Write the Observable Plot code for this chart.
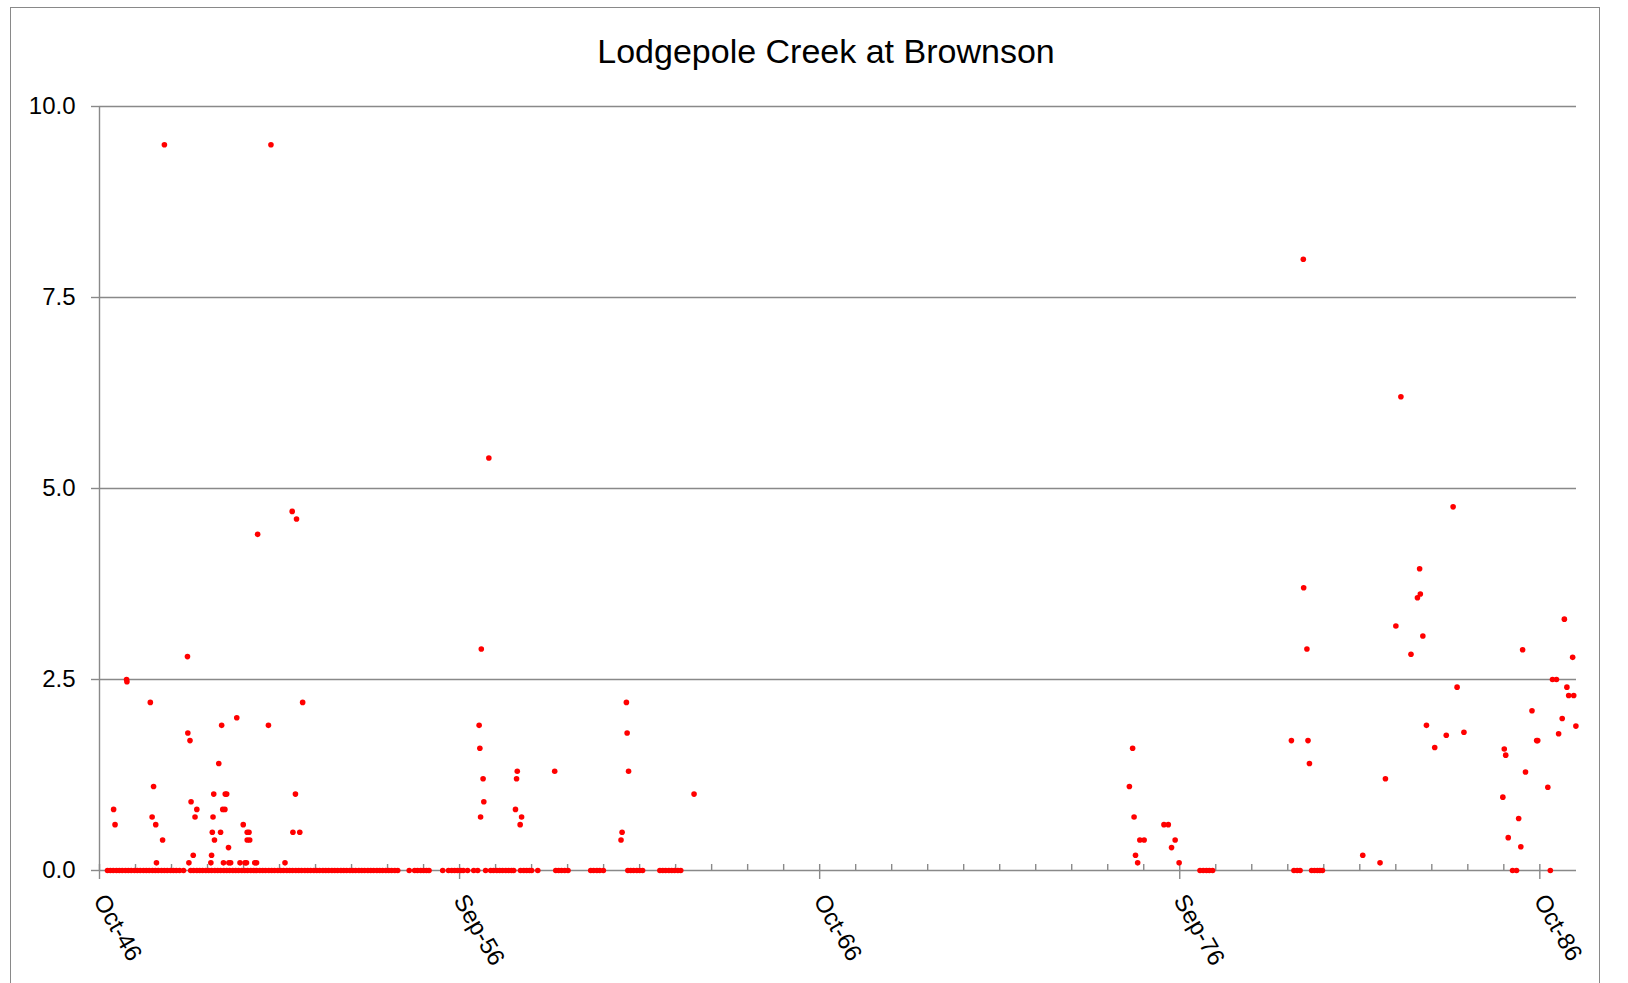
<!DOCTYPE html>
<html><head><meta charset="utf-8">
<script src="https://cdn.jsdelivr.net/npm/d3@7"></script>
<script src="https://cdn.jsdelivr.net/npm/@observablehq/plot@0.6"></script>
<style>
html,body{margin:0;padding:0;background:#fff;}
#wrap{position:relative;width:1628px;height:983px;overflow:hidden;font-family:"Liberation Sans",Arial,sans-serif;}
#border{position:absolute;left:10px;top:7px;width:1590px;height:1100px;border:1px solid #898989;box-sizing:border-box;}
#title{position:absolute;left:826px;top:34px;transform:translateX(-50%);font-size:34px;line-height:34px;white-space:nowrap;color:#000;}
#chart{position:absolute;left:0;top:80px;}
</style></head><body>
<div id="wrap"><div id="border"></div><div id="title">Lodgepole Creek at Brownson</div><div id="chart"></div></div>
<script>
// Tick labels and tick dates (Excel date axis: start Oct 1 1946, major unit ~10 yr)
const xTickLabels = ["Oct-46", "Sep-56", "Oct-66", "Sep-76", "Oct-86"];
const xTickDates = ["1946-10-01T00:00Z", "1956-09-30T12:00Z", "1966-10-01T00:00Z", "1976-09-30T12:00Z", "1986-10-01T00:00Z"];
const yTicks = [0, 2.5, 5, 7.5, 10];

// Observations read as decimal years with value 0.0
const zeroYears = [
  1946.97, 1947.05, 1947.13, 1947.22, 1947.30, 1947.38, 1947.47, 1947.55, 1947.63, 1947.72, 1947.80, 1947.88,
  1947.97, 1948.05, 1948.13, 1948.22, 1948.30, 1948.38, 1948.47, 1948.55, 1948.63, 1948.72, 1948.80, 1948.88,
  1948.97, 1949.08,
  1949.28, 1949.36, 1949.45, 1949.53, 1949.61, 1949.70, 1949.78, 1949.86, 1949.95,
  1950.03, 1950.11, 1950.20, 1950.28, 1950.36, 1950.45, 1950.53, 1950.61, 1950.70, 1950.78, 1950.86, 1950.95,
  1951.03, 1951.11, 1951.20, 1951.28, 1951.36, 1951.45, 1951.53, 1951.61, 1951.70, 1951.78, 1951.86, 1951.95,
  1952.03, 1952.11, 1952.20, 1952.28, 1952.36, 1952.45, 1952.53, 1952.61, 1952.70, 1952.78, 1952.86, 1952.95,
  1953.03, 1953.11, 1953.20, 1953.28, 1953.36, 1953.45, 1953.53, 1953.61, 1953.70, 1953.78, 1953.86, 1953.95,
  1954.03, 1954.11, 1954.20, 1954.28, 1954.36, 1954.45, 1954.53, 1954.61, 1954.70, 1954.78, 1954.86, 1954.95,
  1955.03,
  1955.35, 1955.50, 1955.58, 1955.67, 1955.75, 1955.83, 1955.90,
  1956.28, 1956.44, 1956.53, 1956.61, 1956.69, 1956.78, 1956.85, 1956.97,
  1957.14, 1957.25, 1957.47,
  1957.61, 1957.69, 1957.78, 1957.86, 1957.94, 1958.03, 1958.11, 1958.19, 1958.25,
  1958.44, 1958.53, 1958.61, 1958.69, 1958.75, 1958.92,
  1959.42, 1959.50, 1959.58, 1959.67, 1959.76,
  1960.39, 1960.47, 1960.56, 1960.64, 1960.74,
  1961.42, 1961.50, 1961.58, 1961.67, 1961.75, 1961.83,
  1962.31, 1962.39, 1962.47, 1962.56, 1962.64, 1962.72, 1962.81, 1962.89,
  1977.31, 1977.40, 1977.49, 1977.57, 1977.66,
  1979.92, 1980.01, 1980.09,
  1980.41, 1980.49, 1980.57, 1980.64, 1980.71,
  1985.99, 1986.10, 1987.04
];

// Non-zero observations: decimal year and value
const years1940s50s = [1947.14, 1947.18, 1947.50, 1947.51, 1948.16, 1948.21, 1948.25, 1948.31, 1948.33, 1948.50, 1948.55,
  1949.19, 1949.20, 1949.23, 1949.26, 1949.29, 1949.35, 1949.40, 1949.45,
  1949.84, 1949.86, 1949.88, 1949.90, 1949.92, 1949.94,
  1950.06, 1950.11, 1950.14, 1950.17, 1950.19, 1950.23, 1950.24, 1950.28, 1950.33, 1950.34, 1950.39,
  1950.56, 1950.65, 1950.74, 1950.79, 1950.83, 1950.85, 1950.85, 1950.90, 1950.92,
  1951.06, 1951.11, 1951.14, 1951.44, 1951.51, 1951.90,
  1952.10, 1952.12, 1952.19, 1952.22, 1952.31, 1952.39];
const values1940s50s = [0.8, 0.6, 2.5, 2.47, 2.2, 0.7, 1.1, 0.6, 0.1, 0.4, 9.5,
  2.8, 1.8, 0.1, 1.7, 0.9, 0.2, 0.7, 0.8,
  0.1, 0.2, 0.5, 0.7, 1.0, 0.4,
  1.4, 0.5, 1.9, 0.8, 0.1, 0.8, 1.0, 1.0, 0.3, 0.1, 0.1,
  2.0, 0.1, 0.6, 0.1, 0.1, 0.5, 0.4, 0.5, 0.4,
  0.1, 0.1, 4.4, 1.9, 9.5, 0.1,
  4.7, 0.5, 1.0, 4.6, 0.5, 2.2];

const years1950s60s = [1957.29, 1957.31, 1957.33, 1957.35, 1957.40, 1957.42, 1957.56,
  1958.30, 1958.33, 1958.35, 1958.43, 1958.47, 1959.39,
  1961.23, 1961.26, 1961.38, 1961.40, 1961.44, 1963.26];
const values1950s60s = [1.9, 1.6, 0.7, 2.9, 1.2, 0.9, 5.4,
  0.8, 1.2, 1.3, 0.6, 0.7, 1.3,
  0.4, 0.5, 2.2, 1.8, 1.3, 1.0];

const years1970s = [1975.35, 1975.44, 1975.48, 1975.52, 1975.58, 1975.64, 1975.76,
  1976.31, 1976.43, 1976.52, 1976.62, 1976.73];
const values1970s = [1.1, 1.6, 0.7, 0.2, 0.1, 0.4, 0.4,
  0.6, 0.6, 0.3, 0.4, 0.1];

const years1980s = [1979.85, 1980.18, 1980.19, 1980.28, 1980.31, 1980.35,
  1981.83, 1982.31, 1982.46, 1982.75, 1982.89, 1983.17, 1983.35, 1983.41, 1983.43, 1983.50, 1983.60, 1983.83,
  1984.15, 1984.34, 1984.45, 1984.64,
  1985.72, 1985.76, 1985.80, 1985.87, 1986.16, 1986.22, 1986.27, 1986.35, 1986.53, 1986.66, 1986.69, 1986.97,
  1987.10, 1987.21, 1987.27, 1987.37, 1987.43, 1987.50, 1987.55, 1987.66, 1987.69, 1987.75];
const values1980s = [1.7, 8.0, 3.7, 2.9, 1.7, 1.4,
  0.2, 0.1, 1.2, 3.2, 6.2, 2.83, 3.57, 3.95, 3.62, 3.07, 1.90, 1.61,
  1.77, 4.76, 2.4, 1.81,
  0.96, 1.59, 1.51, 0.43, 0.68, 0.31, 2.89, 1.29, 2.09, 1.7, 1.7, 1.09,
  2.5, 2.5, 1.79, 1.99, 3.29, 2.4, 2.29, 2.79, 2.29, 1.89];

// decimal year -> UTC Date
function toDate(y) {
  const yr = Math.floor(y);
  const a = Date.UTC(yr, 0, 1), b = Date.UTC(yr + 1, 0, 1);
  return new Date(a + (y - yr) * (b - a));
}

const data = [];
zeroYears.forEach(y => data.push({date: toDate(y), value: 0}));
[[years1940s50s, values1940s50s], [years1950s60s, values1950s60s], [years1970s, values1970s], [years1980s, values1980s]]
  .forEach(([ys, vs]) => ys.forEach((y, i) => data.push({date: toDate(y), value: vs[i]})));

const xStart = new Date("1946-10-01T00:00Z");
const xEnd = new Date("1987-10-08T00:00Z");
const majorDates = xTickDates.map(s => new Date(s));
const minorDates = d3.range(1, 41).filter(k => k % 10 !== 0).map(k => new Date(xStart.getTime() + k * 365.25 * 864e5));

const gray = "#898989";
const chart = Plot.plot({
  width: 1628, height: 903,
  marginLeft: 99, marginRight: 52, marginTop: 26, marginBottom: 113,
  style: {fontFamily: '"Liberation Sans", Arial, sans-serif', background: "transparent", overflow: "visible", color: "#000"},
  x: {type: "utc", domain: [xStart, xEnd], axis: null},
  y: {domain: [0, 10], axis: null},
  marks: [
    Plot.ruleY(yTicks, {stroke: gray, strokeWidth: 1.4}),
    Plot.ruleY(yTicks, {x1: xStart, x2: xStart, insetLeft: -8, stroke: gray, strokeWidth: 1.4}),
    Plot.ruleX([xStart], {y1: 0, y2: 10, stroke: gray, strokeWidth: 1.4}),
    Plot.ruleX(minorDates, {y1: 0, y2: 0, insetTop: -6, stroke: gray, strokeWidth: 1.4}),
    Plot.ruleX(majorDates, {y1: 0, y2: 0, insetTop: -6, insetBottom: -9, stroke: gray, strokeWidth: 1.4}),
    Plot.text(yTicks, {x: xStart, y: d => d, text: d => d.toFixed(1), textAnchor: "end", dx: -24, fontSize: 24, fill: "#000"}),
    Plot.text(majorDates, {x: d => d, y: 0, text: (d, i) => xTickLabels[i], rotate: 60, textAnchor: "start", lineAnchor: "middle", dy: 26, fontSize: 24, fill: "#000"}),
    Plot.dot(data, {x: "date", y: "value", r: 2.8, fill: "#ff0000", stroke: "none"})
  ]
});
document.getElementById("chart").appendChild(chart);
</script>
</body></html>
